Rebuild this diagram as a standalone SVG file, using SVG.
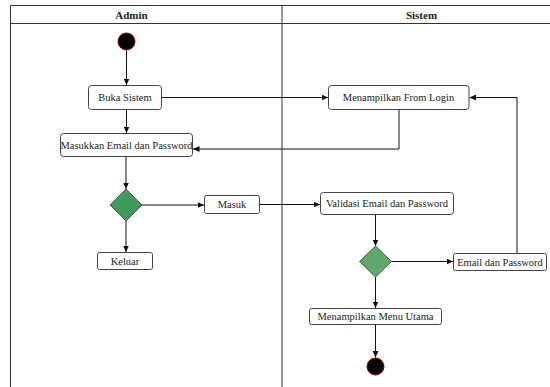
<svg xmlns="http://www.w3.org/2000/svg" width="550" height="387" viewBox="0 0 550 387">
<style>
.lane{stroke:#333;stroke-width:1;fill:none}
.box{fill:#fff;stroke:#444;stroke-width:1}
.t{font-family:"Liberation Serif","Times New Roman",serif;font-size:10.5px;fill:#222;text-anchor:middle;dominant-baseline:central}
.h{font-family:"Liberation Serif","Times New Roman",serif;font-size:11px;font-weight:bold;fill:#222;text-anchor:middle;dominant-baseline:central}
.c{stroke:#111;stroke-width:1;fill:none;marker-end:url(#arr)}
.node-start{fill:#000;stroke:#8b0000;stroke-width:1}
</style>
<defs>
<marker id="arr" markerWidth="7" markerHeight="6" refX="6.5" refY="3" orient="auto" markerUnits="userSpaceOnUse">
<path d="M0,0 L6.5,3 L0,6 z" fill="#111"/>
</marker>
</defs>
<rect width="550" height="387" fill="#fff"/>
<g id="lanes">
<line class="lane" x1="10.5" y1="5.5" x2="550" y2="5.5"/>
<line class="lane" x1="10.5" y1="23.5" x2="550" y2="23.5"/>
<line class="lane" x1="10.5" y1="5.5" x2="10.5" y2="387"/>
<line class="lane" x1="282" y1="5.5" x2="282" y2="387"/>
<text class="h" x="131.5" y="14.5">Admin</text>
<text class="h" x="421.5" y="14.5">Sistem</text>
</g>
<g id="connectors">
<path class="c" d="M126.5,50.5 V85"/>
<path class="c" d="M126.5,109.5 V133"/>
<path class="c" d="M161.5,97.5 H328"/>
<path class="c" d="M399,109.5 V149 H193"/>
<path class="c" d="M126,156.5 V189"/>
<path class="c" d="M142,205 H204"/>
<path class="c" d="M126,221 V252"/>
<path class="c" d="M259.5,204.5 H320"/>
<path class="c" d="M375.5,214.5 V246"/>
<path class="c" d="M391.5,261.5 H453"/>
<path class="c" d="M517,253.5 V97.5 H469.5"/>
<path class="c" d="M375.5,277 V308"/>
<path class="c" d="M375.5,324.5 V357.5"/>
</g>
<g id="start"><circle class="node-start" cx="126.5" cy="41.5" r="8.5"/></g>
<g id="buka"><rect class="box" x="88.5" y="85.5" width="73" height="24" rx="3"/><text class="t" x="125" y="97.5">Buka Sistem</text></g>
<g id="masukkan"><rect class="box" x="60.5" y="133.5" width="132" height="23" rx="3"/><text class="t" x="126.5" y="145">Masukkan Email dan Password</text></g>
<g id="decision1"><polygon points="126,189 142,205 126,221 110,205" fill="#3e9a5b" stroke="#555" stroke-width="1"/></g>
<g id="masuk"><rect class="box" x="204.5" y="195.5" width="55" height="18" rx="2"/><text class="t" x="232" y="204.5">Masuk</text></g>
<g id="keluar"><rect class="box" x="97.5" y="252.5" width="55" height="17" rx="2"/><text class="t" x="125" y="261">Keluar</text></g>
<g id="login"><rect class="box" x="328.5" y="85.5" width="140.5" height="24" rx="3"/><text class="t" x="398.5" y="97.5">Menampilkan From Login</text></g>
<g id="validasi"><rect class="box" x="320.5" y="192.5" width="133" height="22" rx="3"/><text class="t" x="387" y="203.5">Validasi Email dan Password</text></g>
<g id="decision2"><polygon points="375.5,246 391.5,261.5 375.5,277 359.5,261.5" fill="#5ea96b" stroke="#555" stroke-width="1"/></g>
<g id="emailpass"><rect class="box" x="453.5" y="253.5" width="93" height="17" rx="2"/><text class="t" x="500" y="262">Email dan Password</text></g>
<g id="menu"><rect class="box" x="309.5" y="308.5" width="132" height="16" rx="2"/><text class="t" x="375.5" y="316.5">Menampilkan Menu Utama</text></g>
<g id="end"><circle class="node-start" cx="375.5" cy="366.5" r="8.5"/></g>
</svg>
